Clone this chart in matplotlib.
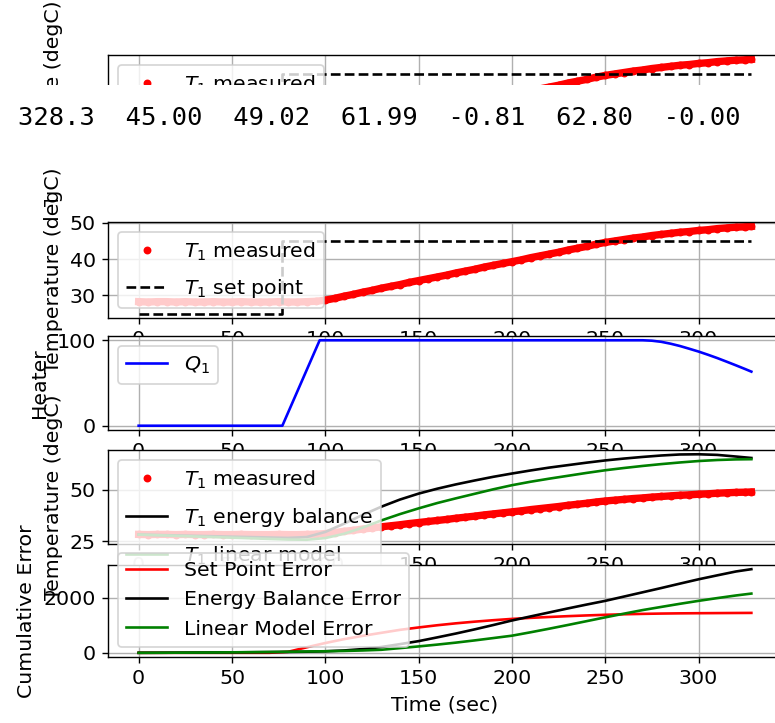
import numpy as np
import matplotlib.pyplot as plt
from matplotlib.patches import Rectangle

# measured temperature, one reading every 5 s (last one at 328.3 s)
t_meas = np.append(np.arange(0, 330, 5), 328.3)
T1_meas = [28.3, 28.2, 28.3, 28.3, 28.2, 28.3, 28.2, 28.2, 28.3, 28.2,
           28.2, 28.3, 28.2, 28.2, 28.2, 28.3, 28.2, 28.2, 28.3, 28.4,
           28.7, 29.2, 29.8, 30.3, 30.9, 31.4, 32.0, 32.5, 33.0, 33.6,
           34.1, 34.6, 35.1, 35.6, 36.2, 36.7, 37.2, 37.8, 38.3, 38.8,
           39.3, 39.8, 40.4, 40.9, 41.4, 41.9, 42.5, 43.0, 43.5, 44.1,
           44.6, 45.0, 45.4, 45.8, 46.1, 46.5, 46.8, 47.1, 47.4, 47.6,
           47.9, 48.1, 48.4, 48.6, 48.8, 48.9, 49.02]

# set point
t_sp = [0, 77, 77, 328.3]
T1_sp = [25, 25, 45, 45]

# heater
t_heat = [0, 77, 97, 270, 275, 280, 285, 290, 295, 300, 305, 310, 315, 320, 325, 328.3]
Q1 = [0, 0, 100, 100, 99.5, 98.2, 96.0, 93.3, 90.1, 86.8, 83.1, 79.2, 75.0, 70.7, 66.3, 63.3]

# model predictions and cumulative errors, every 10 s
t_mod = np.append(np.arange(0, 330, 10), 328.3)
T1_energy = [28.2, 28.0, 27.8, 27.6, 27.4, 27.2, 27.0, 26.8, 26.6, 27.0,
             29.5, 33.5, 37.8, 41.8, 45.3, 48.2, 50.6, 52.7, 54.6, 56.4,
             58.0, 59.5, 60.9, 62.1, 63.3, 64.4, 65.3, 66.1, 66.8, 67.3,
             67.4, 67.1, 66.3, 65.6]
T1_linear = [28.2, 27.9, 27.6, 27.3, 27.0, 26.7, 26.4, 26.1, 25.8, 25.7,
             26.5, 28.6, 31.6, 35.1, 38.2, 41.0, 43.6, 45.9, 48.1, 50.3,
             52.3, 54.0, 55.5, 56.9, 58.3, 59.6, 60.7, 61.7, 62.6, 63.4,
             64.1, 64.6, 64.9, 65.0]
err_sp = [0, 0, 0, 0, 0, 0, 0, 0, 35, 200,
          355, 495, 615, 725, 833, 920, 1000, 1070, 1130, 1183,
          1230, 1268, 1300, 1330, 1356, 1379, 1398, 1413, 1424, 1432,
          1437, 1441, 1445, 1448]
err_energy = [0, 2, 5, 8, 12, 16, 21, 26, 32, 40,
              55, 85, 135, 210, 315, 424, 560, 700, 850, 1008,
              1172, 1320, 1465, 1610, 1750, 1885, 2040, 2195, 2350, 2510,
              2667, 2810, 2950, 3034]
err_linear = [0, 2, 5, 9, 13, 18, 24, 31, 39, 48,
              57, 68, 85, 110, 170, 232, 298, 370, 450, 535,
              621, 745, 875, 1010, 1148, 1287, 1420, 1550, 1665, 1778,
              1885, 1985, 2080, 2149]

printed = '328.3  45.00  49.02  61.99  -0.81  62.80  -0.00'

W, H, DPI = 775, 723, 126
AX_LEFT, AX_WIDTH = 108, 674

plt.rcParams['font.size'] = 11.7


def add_axes(fig, top, bottom, z):
    ax = fig.add_axes([AX_LEFT / W, 1 - bottom / H, AX_WIDTH / W, (bottom - top) / H])
    ax.set_zorder(z)
    return ax


def plot_measured(ax):
    # thick band under the dots so the dense record looks continuous
    ax.plot(t_meas, T1_meas, '-', color='r', lw=4.2)
    ax.plot(t_meas, T1_meas, 'r.', markersize=7, label='$T_1$ measured')


def plot_setpoint(ax):
    plot_measured(ax)
    ax.plot(t_sp, T1_sp, 'k--', label='$T_1$ set point')
    ax.set_ylabel('Temperature (degC)')
    ax.legend(loc='upper left', labelspacing=0.7)
    ax.grid()


def main():
    fig = plt.figure(figsize=(W / DPI, H / DPI), dpi=DPI)

    # previous output frame, cut off by the notebook
    ax0 = add_axes(fig, 55, 151, 0)
    plot_setpoint(ax0)
    ax0.set_yticks([30, 40])
    fig.add_artist(Rectangle((0, 1 - 200 / H), 1, 115 / H, transform=fig.transFigure,
                             facecolor='white', edgecolor='none', zorder=0.5))
    fig.text(18 / W, 1 - 125 / H, printed, family='DejaVu Sans Mono', fontsize=14.55,
             va='baseline', zorder=2)

    ax1 = add_axes(fig, 222, 318, 1)
    plot_setpoint(ax1)

    ax2 = add_axes(fig, 336, 430, 1)
    ax2.plot(t_heat, Q1, 'b-', label='$Q_1$')
    ax2.set_ylabel('Heater')
    ax2.legend(loc='upper left')
    ax2.grid()

    ax3 = add_axes(fig, 450, 544, 1)
    plot_measured(ax3)
    ax3.plot(t_mod, T1_energy, 'k-', label='$T_1$ energy balance')
    ax3.plot(t_mod, T1_linear, 'g-', label='$T_1$ linear model')
    ax3.set_ylabel('Temperature (degC)')
    ax3.legend(loc='upper left', labelspacing=0.75)
    ax3.grid()

    ax4 = add_axes(fig, 565, 657, 1)
    ax4.plot(t_mod, err_sp, 'r-', label='Set Point Error')
    ax4.plot(t_mod, err_energy, 'k-', label='Energy Balance Error')
    ax4.plot(t_mod, err_linear, 'g-', label='Linear Model Error')
    ax4.set_ylabel('Cumulative Error')
    ax4.set_xlabel('Time (sec)')
    ax4.legend(loc='lower left')
    ax4.grid()

    fig.savefig('out.png', dpi=DPI)


if __name__ == '__main__':
    main()
